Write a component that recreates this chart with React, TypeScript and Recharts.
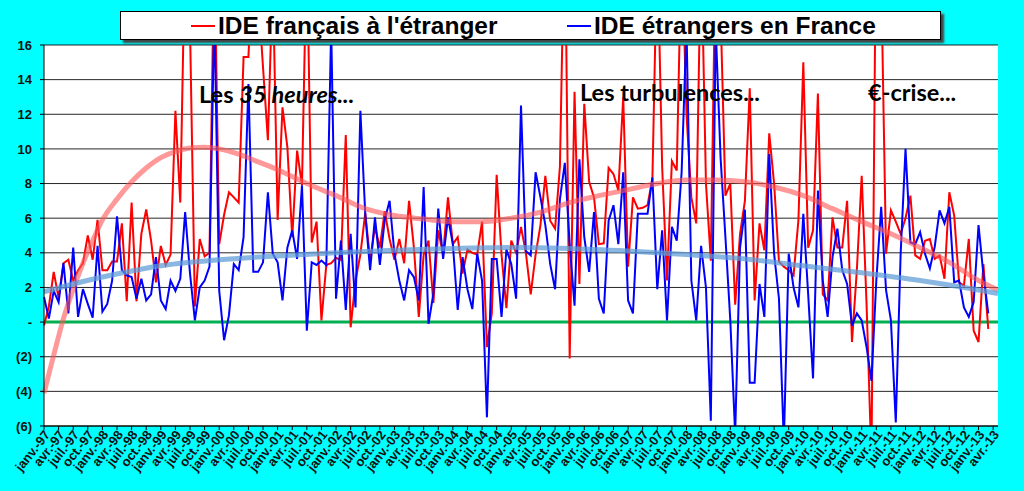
import { LineChart, Line, XAxis, YAxis, CartesianGrid, ReferenceLine } from 'recharts';

// French FDI flows, monthly, janv.-97 .. mars-13 (bn EUR)
const MONTH_NAMES = ['janv.', 'févr.', 'mars', 'avr.', 'mai', 'juin', 'juil.', 'août', 'sept.', 'oct.', 'nov.', 'déc.'];
const FIRST_YEAR = 1997;
const MONTH_COUNT = 197; // axis runs to mai-13

const ideFrancais = [
  -0.2, 0.9, 2.9, 1.4, 3.4, 3.6, 2.4, 3.0, 3.4, 5.0, 3.6, 5.9, 3.0, 3.0, 3.5, 3.5, 5.7, 1.2, 6.9, 1.2,
  5.1, 6.5, 4.7, 2.3, 4.4, 3.3, 3.9, 12.2, 6.9, 22, 17, 0.9, 4.8, 3.8, 4.0, 22, 4.5, 6.2, 7.5, 7.2,
  6.9, 15.3, 15.3, 22, 19, 14.7, 10.5, 20, 5.9, 12.4, 10.1,
  4.9, 9.9, 7.9, 22, 4.6, 5.8, 0.1, 3.3, 3.4, 3.7, 3.6, 10.8, -0.3, 2.4, 3.9, 6.3, 3.6, 5.5, 4.3, 6.4,
  4.8, 3.6, 4.8, 3.4, 7.0, 4.3, 0.3, 3.9, 4.7, 1.1, 5.3, 3.9, 7.2, 4.5, 4.9, 2.8, 4.2, 4.0, 3.9, 5.8,
  -1.45, 0.5, 8.5, 3.9, 0.8, 4.7, 4.0,
  5.5, 4.0, 1.6, 3.9, 5.6, 8.45, 5.85, 5.4, 9.0, 24, -2.1, 13.3, 2.2, 12.6, 8.1, 7.2, 4.5, 4.55, 8.9, 8.55,
  7.6, 13.0, 3.2, 7.2, 6.55, 6.6, 6.75, 8.3, 22, 8.95, 2.4, 9.3, 8.75, 22, 12, 7.2, 5.7, 22, 8, 3.55,
  22, 18, 7.3, 8.0, 1.0, 5.1, 7.0, 13.5, 1.25, 5.7, 4.15, 10.9,
  8.0, 3.5, 3.2, 3.0, 2.7, 5.9, 15.0, 4.3, 5.3, 13.2, 1.6, 1.25, 6.05, 4.3, 4.3, 7.0, -1.15, 3.0, 8.45, 1.0,
  -8, 25, 20, 3.95, 6.45, 5.8, 5.1, 6.0, 7.3, 3.85, 3.65, 4.7, 4.8, 3.65, 3.85, 2.5, 7.5, 6.15, 2.3, 2.1,
  4.8, -0.5, -1.15, 3.35, -0.4,
];

const ideEtrangers = [
  1.45, 0.2, 1.8, 1.15, 3.4, 0.5, 4.3, 0.3, 1.9, 1.05, 0.25, 4.4, 0.6, 1.05, 2.4, 6.1, 3.0, 2.7, 2.6, 1.35,
  2.5, 1.25, 1.6, 3.75, 1.25, 0.75, 2.4, 1.8, 2.5, 6.35, 2.8, 0.1, 2.0, 2.4, 3.2, 18, 1.8, -1.05, 0.4, 3.35,
  3.0, 4.9, 13.75, 2.9, 2.9, 3.45, 7.5, 3.95, 3.45, 1.25, 4.3,
  5.3, 3.65, 7.9, -0.5, 3.45, 3.3, 3.55, 3.3, 17, 1.35, 4.7, 0.7, 5.1, 0.85, 12.2, 6.25, 3.0, 6.05, 3.3, 5.9,
  7.0, 3.95, 2.4, 1.25, 3.0, 2.6, 1.25, 7.8, -0.1, 1.65, 6.55, 3.65, 6.05, 4.5, 0.7, 3.75, 1.9, 0.75, 3.95, 2.4,
  -5.5, 3.65, 3.65, 0.3, 4.2, 3.35, 1.35,
  12.5, 4.1, 3.85, 8.65, 7.2, 5.6, 3.35, 1.9, 7.1, 9.2, 4.5, 0.95, 9.4, 4.9, 2.9, 6.35, 1.35, 0.5, 5.85, 6.75,
  4.5, 8.65, 1.25, 0.5, 6.25, 6.25, 6.25, 8.35, 1.9, 5.3, 0.1, 5.5, 4.7, 8.65, 17, 2.4, 0.1, 4.4, 2.0, -5.7,
  17, 9.5, 4.9, 0.1, -6.5, 4.3, 6.5, -3.5, -3.5, 2.2, 0.3, 9.7,
  3.95, 1.35, -7, 3.95, 2.0, 0.85, 6.25, 1.6, -3.25, 7.6, 2.4, 0.3, 3.75, 5.4, 3.0, 2.2, -0.2, 0.5, 0.1, -1.45,
  -3.4, 2.4, 6.65, 1.85, 0.1, -5.8, 3.95, 10.0, 4.6, 4.5, 5.2, 3.95, 3.1, 4.35, 6.45, 5.7, 6.65, 2.3, 2.4, 0.85,
  0.3, 1.15, 5.6, 2.75, 0.5,
];

// trend curves, [month index, value] read at a few points
const tendanceFrancais = [
  [0, -4.1], [2, -1.9], [4, 0.2], [6, 1.9], [8, 3.4], [10, 4.7], [12, 5.9], [15, 7.1], [18, 8.1], [21, 8.9],
  [24, 9.5], [27, 9.85], [30, 10.05], [33, 10.1], [36, 10.0], [40, 9.7], [44, 9.25], [48, 8.8], [54, 8.0],
  [60, 7.3], [66, 6.55], [72, 6.15], [78, 5.95], [84, 5.8], [90, 5.8], [96, 6.0], [102, 6.35], [108, 6.9],
  [114, 7.3], [120, 7.65], [126, 8.0], [132, 8.2], [138, 8.2], [144, 8.1], [150, 7.8], [156, 7.3],
  [162, 6.55], [168, 5.8], [174, 5.1], [180, 4.3], [186, 3.45], [192, 2.4], [196, 1.85],
];

const tendanceEtrangers = [
  [0, 1.75], [6, 2.2], [12, 2.6], [18, 2.95], [24, 3.25], [30, 3.45], [36, 3.6], [42, 3.72], [48, 3.82],
  [60, 4.0], [72, 4.15], [84, 4.25], [96, 4.3], [108, 4.25], [120, 4.1], [132, 3.9], [144, 3.65],
  [156, 3.25], [168, 2.85], [180, 2.4], [190, 1.95], [196, 1.65],
];

const Y_TICKS = [-6, -4, -2, 0, 2, 4, 6, 8, 10, 12, 14, 16];

const months = Array.from({ length: MONTH_COUNT }, (_, i) => {
  const yy = String((FIRST_YEAR + Math.floor(i / 12)) % 100).padStart(2, '0');
  return `${MONTH_NAMES[i % 12]}-${yy}`;
});

const frTrend = new Map(tendanceFrancais.map(([i, v]) => [i, v]));
const etrTrend = new Map(tendanceEtrangers.map(([i, v]) => [i, v]));

const rows = months.map((m, i) => ({
  m,
  fr: i < ideFrancais.length ? ideFrancais[i] : null,
  etr: i < ideEtrangers.length ? ideEtrangers[i] : null,
  frT: frTrend.has(i) ? frTrend.get(i) : null,
  etrT: etrTrend.has(i) ? etrTrend.get(i) : null,
}));

const AXIS_FONT = '"Liberation Sans", Arial, sans-serif';

function formatY(v: number): string {
  if (v === 0) return '-';
  if (v < 0) return `(${-v})`;
  return String(v);
}

function MonthTick({ x, y, payload }: any) {
  return (
    <g transform={`translate(${x + 3},${y}) rotate(-52)`}>
      <text x={0} y={0} dy="0.35em" textAnchor="end" fontSize={13} fontWeight="bold" fontFamily={AXIS_FONT} fill="#111">
        {payload.value}
      </text>
    </g>
  );
}

const noteStyle: React.CSSProperties = {
  position: 'absolute',
  fontFamily: 'Lato, "Open Sans", sans-serif',
  fontWeight: 'bold',
  fontSize: 23.5,
  lineHeight: '24px',
  color: '#000',
  whiteSpace: 'nowrap',
};

export default function App() {
  return (
    <div style={{ position: 'fixed', left: 0, top: 0, width: 1024, height: 491, background: '#00FFFF', overflow: 'hidden' }}>
      <LineChart width={1024} height={491} data={rows} margin={{ top: 45, right: 26, bottom: 0, left: 0 }}>
        <CartesianGrid vertical={false} stroke="#000" fill="#fff" strokeOpacity={0.85} />
        <XAxis
          dataKey="m"
          interval={2}
          height={65}
          tick={MonthTick}
          tickSize={4}
          tickMargin={2}
          tickLine={{ stroke: '#000' }}
          axisLine={{ stroke: '#000' }}
        />
        <YAxis
          domain={[-6, 16]}
          ticks={Y_TICKS}
          allowDataOverflow
          width={44}
          tickFormatter={formatY}
          tickSize={4}
          tickMargin={8}
          tick={{ fontSize: 13, fontWeight: 'bold', fill: '#111', fontFamily: AXIS_FONT }}
          tickLine={{ stroke: '#000' }}
          axisLine={{ stroke: '#000' }}
        />
        <YAxis yAxisId="border" orientation="right" width={0} tick={false} tickLine={false} axisLine={{ stroke: '#999' }} />
        <ReferenceLine y={0} stroke="#00B050" strokeWidth={3} />
        <Line dataKey="fr" stroke="#FF0000" strokeWidth={2} dot={false} type="linear" isAnimationActive={false} />
        <Line dataKey="etr" stroke="#0000FF" strokeWidth={2} dot={false} type="linear" isAnimationActive={false} />
        <Line dataKey="frT" stroke="#FF5555" strokeOpacity={0.6} strokeWidth={5} dot={false} type="monotone" connectNulls isAnimationActive={false} />
        <Line dataKey="etrT" stroke="#5B9BD5" strokeOpacity={0.72} strokeWidth={5} dot={false} type="monotone" connectNulls isAnimationActive={false} />
      </LineChart>

      {/* legend box */}
      <div
        style={{
          position: 'absolute', left: 120, top: 11, width: 819, height: 27,
          background: '#fff', border: '1px solid #000', boxShadow: '3px 3px 2px #444',
          fontFamily: AXIS_FONT, fontWeight: 'bold', fontSize: 24.5, lineHeight: '27px', color: '#000',
        }}
      >
        <span style={{ position: 'absolute', left: 70, top: 13, width: 24, height: 2, background: '#FF0000' }} />
        <span style={{ position: 'absolute', left: 97, top: 0, whiteSpace: 'nowrap' }}>IDE français à l'étranger</span>
        <span style={{ position: 'absolute', left: 446, top: 13, width: 24, height: 2, background: '#0000FF' }} />
        <span style={{ position: 'absolute', left: 473, top: 0, whiteSpace: 'nowrap' }}>IDE étrangers en France</span>
      </div>

      <div style={{ ...noteStyle, left: 199, top: 82 }}>Les <i>35 heures...</i></div>
      <div style={{ ...noteStyle, left: 580, top: 80 }}>Les turbulences...</div>
      <div style={{ ...noteStyle, left: 868, top: 80 }}>€-crise...</div>
    </div>
  );
}
